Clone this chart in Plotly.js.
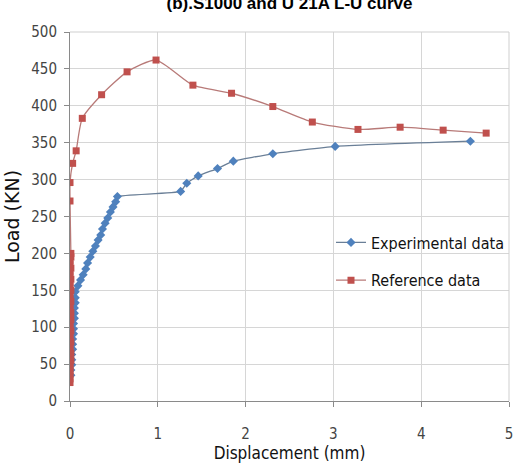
<!DOCTYPE html>
<html><head><meta charset="utf-8">
<script src="https://cdn.plot.ly/plotly-3.0.1.min.js"></script>
<style>html,body{margin:0;padding:0;background:#fff}#c{width:517px;height:468px}</style>
</head><body><div id="c"></div>
<script>
const chartTitle = "(b).S1000 and U 21A L-U curve";
const expDisp = [0.01,0.01,0.02,0.02,0.02,0.03,0.03,0.03,0.04,0.04,0.04,0.05,0.05,0.05,0.06,0.06,0.06,
  0.09,0.12,0.15,0.18,0.20,0.23,0.26,0.29,0.32,0.35,0.37,0.40,0.43,0.46,0.49,0.52,0.54,
  1.26,1.33,1.46,1.68,1.86,2.31,3.02,4.56];
const expLoad = [35,42,49,56,63,70,77,84,91,98,105,112,119,126,133,140,148,
  156,164,171,179,187,195,203,210,218,225,233,241,248,256,263,270,277,
  284,295,305,315,325,335,345,352];
const refDisp = [0.00,0.00,0.00,0.00,0.00,0.00,0.01,0.00,0.01,0.00,0.00,0.01,0.00,0.00,0.01,0.00,0.00,0.01,
  0.00,0.01,0.00,0.00,0.01,0.00,0.00,0.01,0.00,0.00,0.01,0.00,0.00,0.01,0.00,0.00,0.01,0.01,
  0.00,0.00,0.03,0.07,0.14,0.36,0.65,0.98,1.40,1.84,2.31,2.76,3.28,3.76,4.25,4.74];
const refLoad = [25,30,35,40,45,50,55,60,65,70,75,80,85,90,95,100,105,110,
  115,120,125,130,135,140,145,150,155,160,165,170,175,180,185,190,195,200,
  271,296,322,339,383,415,446,462,428,417,399,378,368,371,367,363];
const xTicks = [0,1,2,3,4,5];
const yTicks = [0,50,100,150,200,250,300,350,400,450,500];
const seriesNames = ["Experimental data","Reference data"];

const narrow = "DejaVu Sans Condensed, Liberation Sans Narrow, Liberation Sans, sans-serif";
const traces = [
  {x: expDisp, y: expLoad, name: seriesNames[0], legendgroup: "a", type: "scatter", mode: "lines+markers",
   line: {color: "#6a7f97", width: 1.3, shape: "spline", smoothing: 0.4},
   marker: {symbol: "diamond", size: 7, color: "#4F81BD"}},
  {x: refDisp, y: refLoad, name: seriesNames[1], legendgroup: "b", type: "scatter", mode: "lines+markers",
   line: {color: "#b87a78", width: 1.3, shape: "spline", smoothing: 0.6},
   marker: {symbol: "square", size: 7, color: "#C0504D"}}
];
const layout = {
  width: 517, height: 468,
  margin: {l: 70, r: 8, t: 32, b: 67},
  paper_bgcolor: "#fff", plot_bgcolor: "#fff",
  title: {text: "<b>" + chartTitle + "</b>", font: {family: "Liberation Sans, Arial, sans-serif", size: 17, color: "#000"},
          x: 0.56, xanchor: "center", yref: "container", y: 0.994, yanchor: "middle"},
  xaxis: {range: [0, 5], tickvals: xTicks, ticktext: xTicks.map(String),
    showgrid: true, gridcolor: "#d6d6d6", gridwidth: 1,
    showline: true, linecolor: "#8a8a8a", linewidth: 1, mirror: false,
    ticks: "outside", ticklen: 5, tickcolor: "#8a8a8a", ticklabelstandoff: 14,
    zeroline: false,
    tickfont: {family: narrow, size: 15, color: "#444"},
    title: {text: "Displacement (mm)", font: {family: narrow, size: 17, color: "#111"}, standoff: 4}},
  yaxis: {range: [0, 500], tickvals: yTicks, ticktext: yTicks.map(String),
    showgrid: true, gridcolor: "#d6d6d6", gridwidth: 1,
    showline: true, linecolor: "#8a8a8a", linewidth: 1,
    ticks: "outside", ticklen: 5, tickcolor: "#8a8a8a", ticklabelstandoff: 4,
    zeroline: false,
    tickfont: {family: narrow, size: 15, color: "#444"},
    title: {text: "Load (KN)", font: {family: "DejaVu Sans, Verdana, sans-serif", size: 19, color: "#111"}, standoff: 6}},
  shapes: [
    {type: "line", xref: "paper", yref: "paper", x0: 1, x1: 1, y0: 0, y1: 1, line: {color: "#cfcfcf", width: 1}},
    {type: "line", xref: "paper", yref: "paper", x0: 0, x1: 1, y0: 1, y1: 1, line: {color: "#cfcfcf", width: 1}}
  ],
  legend: {x: 1.0, y: 0.378, xanchor: "right", yanchor: "middle", bgcolor: "rgba(0,0,0,0)",
    font: {family: narrow, size: 16, color: "#111"}, tracegroupgap: 14, itemwidth: 30},
  showlegend: true
};
Plotly.newPlot("c", traces, layout, {staticPlot: true, displayModeBar: false});
</script></body></html>
